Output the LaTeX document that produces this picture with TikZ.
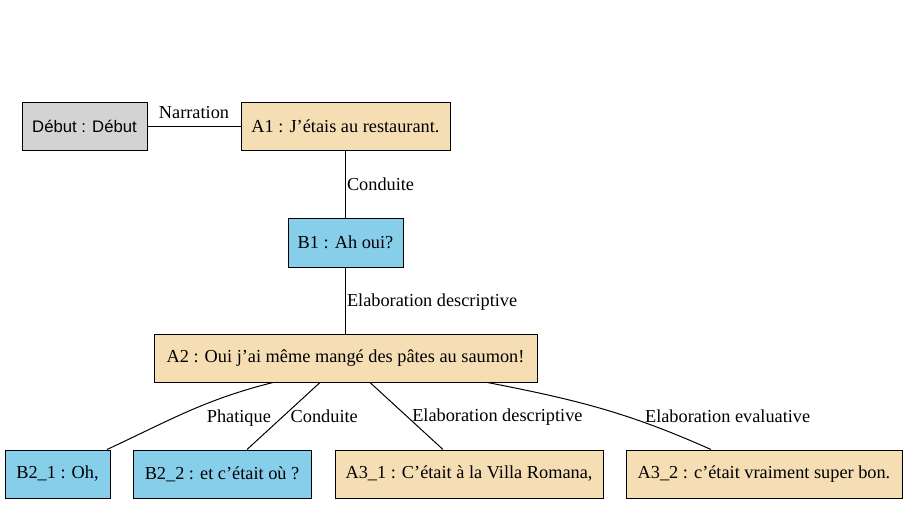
\documentclass[tikz,border=0pt]{standalone}
\usepackage{fontspec}
\setmainfont{Liberation Serif}
\newfontfamily\debutfont{Liberation Sans}
\usetikzlibrary{positioning, calc}
\definecolor{StartGray}{HTML}{D3D3D3}
\definecolor{TurnWheat}{HTML}{F5DEB3}
\definecolor{TurnSky}{HTML}{87CEEB}
\tikzset{
  graybox/.style={draw=black, line width=1pt, fill=StartGray, minimum height=48pt, inner sep=2pt, font=\fontsize{16.7}{20}\selectfont\debutfont},
  wheatbox/.style={draw=black, line width=1pt, fill=TurnWheat, minimum height=48pt, inner sep=2pt, font=\fontsize{18.3}{21}\selectfont},
  skybox/.style={draw=black, line width=1pt, fill=TurnSky, minimum height=48pt, inner sep=2pt, font=\fontsize{18.3}{21}\selectfont},
  rel/.style={draw=black, line width=1pt},
  rellabel/.style={font=\fontsize{18.3}{21}\selectfont, inner sep=1pt}
}

\begin{document}
\begin{tikzpicture}[x=1pt, y=1pt]
\useasboundingbox (0,0) rectangle (909,-504);

\node[graybox, minimum width=125pt] (debut) at (84.5,-126) {Début : Début};
\node[wheatbox, right=93pt of debut, minimum width=209pt] (a1) {A1 : J’étais au restaurant.};
\node[skybox, below=67pt of a1, minimum width=115pt, minimum height=49pt] (b1) {B1 : Ah oui?};
\node[wheatbox, below=66pt of b1, minimum width=383pt] (a2) {A2 : Oui j’ai même mangé des pâtes au saumon!};

\node[skybox, minimum width=105pt] (b21) at (57.5,-474) {B2\_1 : Oh,};
\node[skybox, right=22pt of b21, minimum width=178pt] (b22) {B2\_2 : et c’était où ?};
\node[wheatbox, right=23pt of b22, minimum width=268pt] (a31) {A3\_1 : C’était à la Villa Romana,};
\node[wheatbox, right=22pt of a31, minimum width=276pt] (a32) {A3\_2 : c’était vraiment super bon.};

\draw[rel] (debut) -- node[rellabel, above, yshift=6pt]{Narration} (a1);
\draw[rel] (a1) -- node[rellabel, right]{Conduite} (b1);
\draw[rel] (b1) -- node[rellabel, right, yshift=-2pt]{Elaboration descriptive} (a2);
\draw[rel] ([xshift=-72.5pt]a2.south) to[out=194, in=25] node[rellabel, pos=0.5, anchor=west, xshift=17pt, yshift=-7pt]{Phatique} ([xshift=49.5pt]b21.north);
\draw[rel] ([xshift=-25.5pt]a2.south) -- node[rellabel, pos=0.49, anchor=west, xshift=5pt, yshift=-1pt]{Conduite} ([xshift=25pt]b22.north);
\draw[rel] ([xshift=24.5pt]a2.south) -- node[rellabel, pos=0.49, anchor=west, xshift=5pt, yshift=-2pt]{Elaboration descriptive} ([xshift=-26pt]a31.north);
\draw[rel] ([xshift=142pt]a2.south) to[out=-11, in=156] node[rellabel, pos=0.5, anchor=west, xshift=42pt, yshift=-8pt]{Elaboration evaluative} ([xshift=-53pt]a32.north);
\end{tikzpicture}
\end{document}
